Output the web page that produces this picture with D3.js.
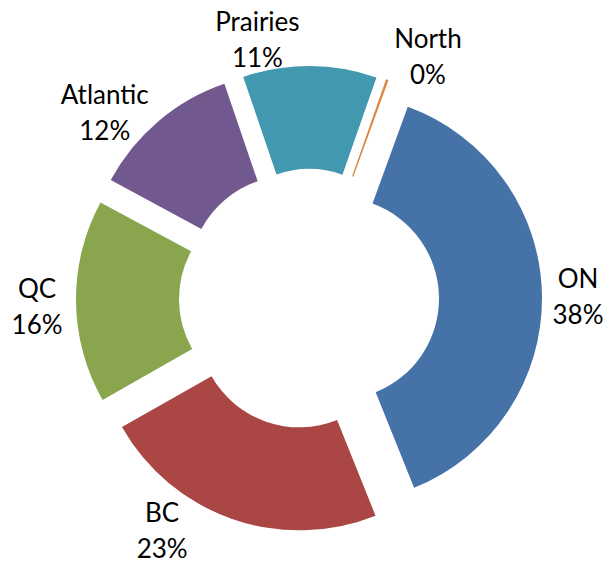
<!DOCTYPE html>
<html>
<head>
<meta charset="utf-8">
<script src="https://cdn.jsdelivr.net/npm/d3@7"></script>
<style>
  body { margin: 0; background: #fff; }
  svg text { font-family: Lato, "Open Sans", sans-serif; fill: #000; }
</style>
</head>
<body>
<div id="chart"></div>
<script>
// data (percent shares)
let regions = ["ON", "BC", "QC", "Atlantic", "Prairies", "North"];
let shares  = [38.4, 22.9, 16.1, 11.9, 10.6, 0.2];
let colors  = ["#4572A7", "#AA4643", "#89A54E", "#71588F", "#4198AF", "#DB843D"];

let width = 604, height = 563;
let cx = 309, cy = 299;
let outerR = 204, innerR = 101;
let explode = 29;       // every slice pushed out the same amount

// excel moves some labels sideways so they don't collide (degrees)
let labelNudge = { ON: 0.5, BC: 13, QC: -1, Atlantic: -7.5, Prairies: -11.5, North: 6.5 };
let labelRadius = { ON: 269, BC: 275, QC: 272, Atlantic: 276, Prairies: 264, North: 270 };

let data = regions.map(function(r, i) {
  return { name: r, value: shares[i], color: colors[i] };
});
let total = d3.sum(shares);

let svg = d3.select("#chart").append("svg")
  .attr("width", width).attr("height", height);

let g = svg.append("g").attr("transform", "translate(" + cx + "," + cy + ")");

let rad = Math.PI / 180;
let pie = d3.pie()
  .sort(null)
  .value(d => d.value)
  .startAngle(20 * rad)
  .endAngle(380 * rad);

let arc = d3.arc().innerRadius(innerR).outerRadius(outerR);

let arcs = pie(data);

g.selectAll("path.slice")
  .data(arcs).enter()
  .append("path")
  .attr("class", "slice")
  .attr("d", arc)
  .attr("fill", d => d.data.color)
  .attr("transform", function(d) {
    let mid = (d.startAngle + d.endAngle) / 2;
    let p = d3.pointRadial(mid, explode);
    return "translate(" + p[0] + "," + p[1] + ")";
  });

// labels: name on first line, percent on second
let pct = d3.format(".0%");
let labels = g.selectAll("text.lbl")
  .data(arcs).enter()
  .append("text")
  .attr("class", "lbl")
  .attr("text-anchor", "middle")
  .style("font-size", "26px");

labels.each(function(d) {
  let mid = (d.startAngle + d.endAngle) / 2 + labelNudge[d.data.name] * rad;
  let p = d3.pointRadial(mid, labelRadius[d.data.name]);
  let t = d3.select(this);
  t.append("tspan").attr("x", p[0]).attr("y", p[1] - 9).text(d.data.name);
  t.append("tspan").attr("x", p[0]).attr("y", p[1] + 27)
    .text(pct(d.data.value / total));
});
</script>
</body>
</html>
